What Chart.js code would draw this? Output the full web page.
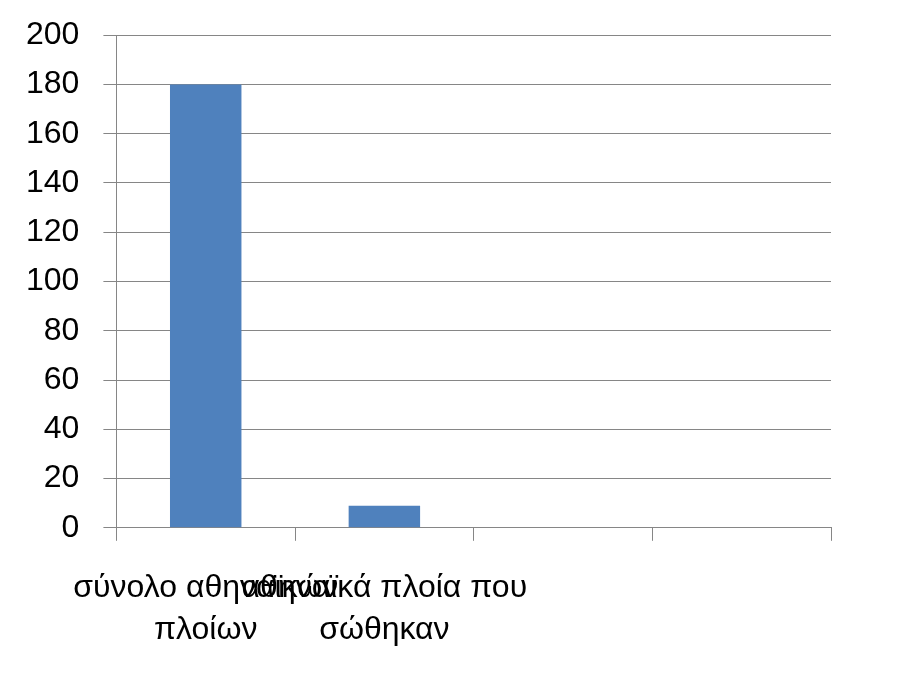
<!DOCTYPE html>
<html>
<head>
<meta charset="utf-8">
<script src="https://cdn.jsdelivr.net/npm/chart.js@4"></script>
<style>
  html, body { margin: 0; padding: 0; background: #fff; }
  #wrap { width: 902px; height: 677px; }
</style>
</head>
<body>
<div id="wrap"><canvas id="chart" width="902" height="677"></canvas></div>
<script>
const categories = [
  ['σύνολο αθηναϊκών', 'πλοίων'],
  ['αθηναϊκά πλοία που', 'σώθηκαν'],
  '',
  ''
];
const values = [180, 9, null, null];

const gridColor = '#868686';
const fontFamily = 'Liberation Sans';

var chart = new Chart(document.getElementById('chart'), {
  type: 'bar',
  data: {
    labels: categories,
    datasets: [
      {
        data: values,
        backgroundColor: '#4f81bd',
        categoryPercentage: 1,
        barPercentage: 0.4,
      },
    ],
  },
  options: {
    responsive: false,
    animation: false,
    layout: { padding: { top: 0, right: 71, left: 2, bottom: 0 } },
    plugins: { legend: { display: false }, tooltip: { enabled: false } },
    scales: {
      x: {
        grid: {
          display: true,
          drawOnChartArea: false,
          drawTicks: true,
          tickLength: 13,
          color: gridColor,
        },
        border: { color: gridColor },
        ticks: {
          color: '#000',
          autoSkip: false,
          maxRotation: 0,
          minRotation: 0,
          padding: 26.5,
          font: { family: fontFamily, size: 32, lineHeight: 1.3 },
        },
      },
      y: {
        min: 0,
        max: 200,
        ticks: {
          stepSize: 20,
          color: '#000',
          padding: 24,
          font: { family: fontFamily, size: 32, lineHeight: 0.7 },
        },
        grid: { color: gridColor, tickLength: 13 },
        border: { color: gridColor },
      },
    },
  },
});
</script>
</body>
</html>
